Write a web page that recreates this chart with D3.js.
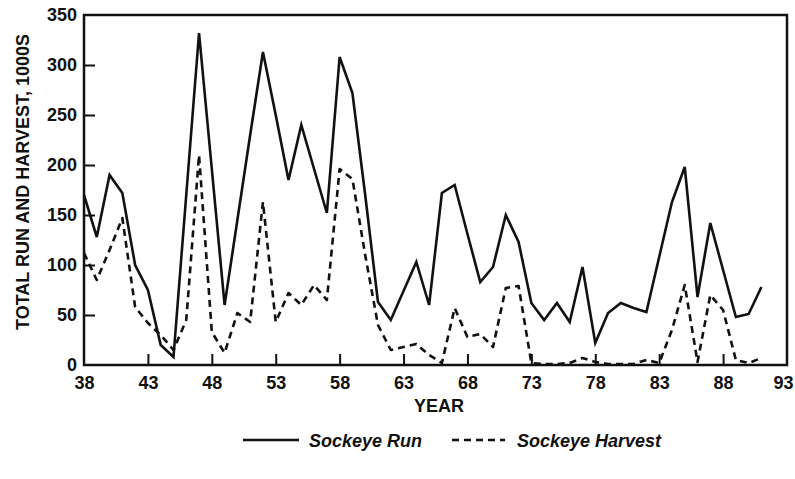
<!DOCTYPE html>
<html>
<head>
<meta charset="utf-8">
<script src="https://cdn.jsdelivr.net/npm/d3@7"></script>
<style>
  html, body { margin: 0; padding: 0; background: #fff; }
  svg { display: block; }
  text { font-family: "Liberation Sans", Arial, sans-serif; font-weight: bold; fill: #111; }
</style>
</head>
<body>
<svg id="chart" width="795" height="479"></svg>
<script>
const years = d3.range(38, 92);
const runValues = [170,128,190,172,100,75,20,8,170,332,196,60,145,230,313,250,185,240,196,152,308,272,170,63,45,74,103,60,172,180,131,83,98,150,123,62,45,62,43,98,22,52,62,57,53,108,163,198,68,142,95,48,51,78];
const harvestValues = [112,85,115,147,58,42,30,15,45,210,33,12,52,43,163,43,72,60,80,65,196,186,110,40,15,18,21,10,2,57,28,31,18,77,79,2,1,1,2,7,3,1,1,1,5,2,35,80,3,70,55,5,2,7];
const xTicks = [38,43,48,53,58,63,68,73,78,83,88,93];
const yTicks = [0,50,100,150,200,250,300,350];
const seriesNames = ["Sockeye Run", "Sockeye Harvest"];
const xTitle = "YEAR";
const yTitle = "TOTAL RUN AND HARVEST, 1000S";

const svg = d3.select("#chart");
const pLeft = 84, pRight = 787, pTop = 15, pBottom = 365;
const x = d3.scaleLinear().domain([38, 93]).range([pLeft, pRight]);
const y = d3.scaleLinear().domain([0, 350]).range([pBottom, pTop]);

const ink = "#111";
const fontFam = "Liberation Sans, Arial, sans-serif";

// frame
svg.append("rect").attr("x", pLeft).attr("y", pTop)
  .attr("width", pRight - pLeft).attr("height", pBottom - pTop)
  .attr("fill", "none").attr("stroke", ink).attr("stroke-width", 2.5);

// y axis (ticks inside)
const yAxis = svg.append("g").attr("transform", `translate(${pLeft},0)`)
  .call(d3.axisLeft(y).tickValues(yTicks).tickSize(-11).tickPadding(7).tickFormat(d3.format("d")));
yAxis.select(".domain").remove();
yAxis.selectAll(".tick line").attr("stroke", ink).attr("stroke-width", 2)
  .attr("display", d => (d === 0 || d === 350) ? "none" : null);
yAxis.selectAll(".tick text").attr("font-size", 18).attr("font-family", fontFam)
  .attr("font-weight", "bold").attr("fill", ink);

// x axis (ticks inside)
const xAxis = svg.append("g").attr("transform", `translate(0,${pBottom})`)
  .call(d3.axisBottom(x).tickValues(xTicks).tickSize(-11).tickPadding(11).tickFormat(d3.format("d")));
xAxis.select(".domain").remove();
xAxis.selectAll(".tick line").attr("stroke", ink).attr("stroke-width", 2)
  .attr("display", d => (d === 38 || d === 93) ? "none" : null);
xAxis.selectAll(".tick text").attr("font-size", 18).attr("font-family", fontFam)
  .attr("font-weight", "bold").attr("fill", ink)
  .attr("dx", d => d === 93 ? -4 : 0);

// lines
const runData = years.map((yr, i) => [yr, runValues[i]]);
const harvestData = years.map((yr, i) => [yr, harvestValues[i]]);
const line = d3.line().x(d => x(d[0])).y(d => y(d[1]));

svg.append("path").datum(harvestData).attr("d", line)
  .attr("fill", "none").attr("stroke", ink).attr("stroke-width", 2.6)
  .attr("stroke-dasharray", "7,5").attr("stroke-linejoin", "round");
svg.append("path").datum(runData).attr("d", line)
  .attr("fill", "none").attr("stroke", ink).attr("stroke-width", 2.6)
  .attr("stroke-linejoin", "miter");

// axis titles
svg.append("text").attr("x", 439).attr("y", 412).attr("text-anchor", "middle")
  .attr("font-size", 18).text(xTitle);
svg.append("text").attr("transform", "translate(29,182) rotate(-90)")
  .attr("text-anchor", "middle").attr("font-size", 18).text(yTitle);

// legend
const lg = svg.append("g");
lg.append("line").attr("x1", 243).attr("x2", 299).attr("y1", 440).attr("y2", 440)
  .attr("stroke", ink).attr("stroke-width", 2.6);
lg.append("text").attr("x", 309).attr("y", 447).attr("font-size", 18).attr("font-style", "italic").text(seriesNames[0]);
lg.append("line").attr("x1", 452).attr("x2", 505).attr("y1", 440).attr("y2", 440)
  .attr("stroke", ink).attr("stroke-width", 2.6).attr("stroke-dasharray", "7,5");
lg.append("text").attr("x", 517).attr("y", 447).attr("font-size", 18).attr("font-style", "italic").text(seriesNames[1]);
</script>
</body>
</html>
